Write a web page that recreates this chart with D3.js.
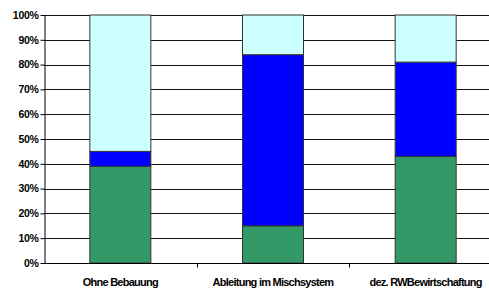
<!DOCTYPE html>
<html>
<head>
<meta charset="utf-8">
<script src="https://cdn.jsdelivr.net/npm/d3@7"></script>
<style>
  body { margin: 0; background: #fff; overflow: hidden; }
  text { font-family: "Liberation Sans", Arial, sans-serif; font-weight: bold; fill: #000; }
</style>
</head>
<body>
<div id="chart"></div>
<script>
// data (percent shares)
var categories = ["Ohne Bebauung", "Ableitung im Mischsystem", "dez. RWBewirtschaftung"];
var versickerung = [39, 15, 43];
var abfluss = [6, 69, 38];
var verdunstung = [55, 16, 19];
var yTicks = [0, 10, 20, 30, 40, 50, 60, 70, 80, 90, 100];

var colors = {Versickerung: "#339966", Abfluss: "#0000ff", Verdunstung: "#ccffff"};

// the plot area runs past the right edge of the picture
var margin = {top: 15, bottom: 31, left: 44},
    W = 489, H = 294,
    width = 458,
    height = H - margin.top - margin.bottom;

var svg = d3.select("#chart")
  .append("svg")
    .attr("width", W)
    .attr("height", H)
  .append("g")
    .attr("transform", "translate(" + margin.left + "," + margin.top + ")");

var rows = categories.map(function(c, i) {
  return {cat: c, Versickerung: versickerung[i], Abfluss: abfluss[i], Verdunstung: verdunstung[i]};
});

var stack = d3.stack().keys(["Versickerung", "Abfluss", "Verdunstung"]);
var layers = stack(rows);

var x = d3.scaleBand()
    .domain(categories)
    .range([0, width]);

var y = d3.scaleLinear()
    .domain([0, 100])
    .range([height, 0]);

// gridlines
svg.append("g")
  .selectAll("line")
  .data(yTicks.slice(1))
  .enter()
  .append("line")
    .attr("x1", 0)
    .attr("x2", W - margin.left)
    .attr("y1", function(d) { return Math.round(y(d)) + 0.5; })
    .attr("y2", function(d) { return Math.round(y(d)) + 0.5; })
    .style("stroke", "#111")
    .style("stroke-width", 1);

// bars
var barW = 61;
svg.append("g")
  .selectAll("g")
  .data(layers)
  .enter()
  .append("g")
    .style("fill", function(d) { return colors[d.key]; })
  .selectAll("rect")
  .data(function(d) { return d; })
  .enter()
  .append("rect")
    .attr("x", function(d) { return x(d.data.cat) + x.bandwidth() / 2 - barW / 2; })
    .attr("y", function(d) { return y(d[1]); })
    .attr("width", barW)
    .attr("height", function(d) { return y(d[0]) - y(d[1]); })
    .style("stroke", "#333")
    .style("stroke-width", 1);

// y axis
var yAxis = svg.append("g")
    .attr("transform", "translate(0.5,0)")
    .call(d3.axisLeft(y).tickValues(yTicks).tickFormat(function(d) { return d + "%"; }).tickSize(4).tickSizeOuter(0));
yAxis.select(".domain").style("stroke", "#000");
yAxis.selectAll(".tick line").style("stroke", "#000");
yAxis.selectAll("text")
    .attr("x", -6)
    .style("font-size", "10.5px")
    .style("letter-spacing", "-0.3px")
    .style("font-family", "'Liberation Sans', Arial, sans-serif")
    .style("font-weight", "bold");

// x axis
var xAxis = svg.append("g")
    .attr("transform", "translate(0," + (Math.round(height) + 0.5) + ")");
xAxis.append("line")
    .attr("x1", 0).attr("x2", W - margin.left)
    .style("stroke", "#000");
xAxis.selectAll(".sep")
  .data(categories.slice(1))
  .enter()
  .append("line")
    .attr("class", "sep")
    .attr("x1", function(d) { return Math.round(x(d)) + 0.5; })
    .attr("x2", function(d) { return Math.round(x(d)) + 0.5; })
    .attr("y1", 0).attr("y2", 4)
    .style("stroke", "#000");
xAxis.selectAll(".lbl")
  .data(categories)
  .enter()
  .append("text")
    .attr("class", "lbl")
    .attr("x", function(d) { return x(d) + x.bandwidth() / 2; })
    .attr("y", 22)
    .style("text-anchor", "middle")
    .style("font-size", "11px")
    .style("letter-spacing", "-0.75px")
    .text(function(d) { return d; });
</script>
</body>
</html>
